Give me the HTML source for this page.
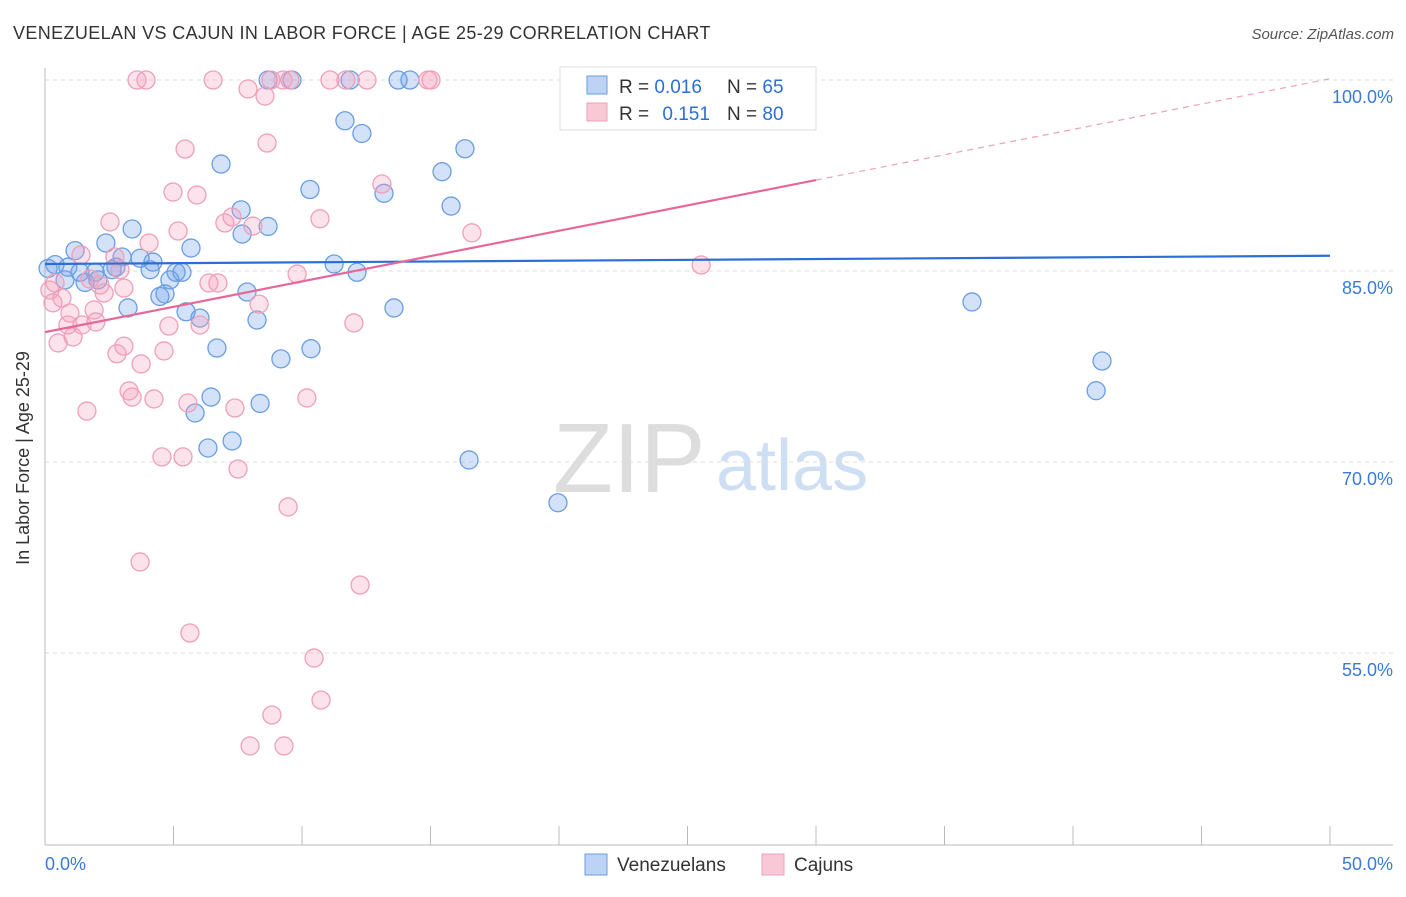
<!DOCTYPE html>
<html><head><meta charset="utf-8"><style>
body{margin:0;background:#fff;font-family:"Liberation Sans",sans-serif}
svg text{font-family:"Liberation Sans",sans-serif}
</style></head><body>
<svg id="chart" width="1406" height="892" viewBox="0 0 1406 892">
<text x="13" y="39" font-size="18" fill="#333" letter-spacing="0.37">VENEZUELAN VS CAJUN IN LABOR FORCE | AGE 25-29 CORRELATION CHART</text>
<text x="1394" y="39" font-size="15" fill="#555" font-style="italic" text-anchor="end">Source: ZipAtlas.com</text>
<g>
<text x="553" y="492" font-size="98" fill="#ddd" font-family="Liberation Serif,serif">ZIP</text>
<text x="716" y="490" font-size="72" fill="#cfdff3">atlas</text>
</g>
<g id="grid"></g><g id="axes"></g><g id="pts"></g><g id="trends"></g>
<text x="29" y="458" font-size="18" fill="#333" text-anchor="middle" transform="rotate(-90 29 458)">In Labor Force | Age 25-29</text>
<g>
<rect x="560" y="67" width="256" height="63" fill="#fff" stroke="#ddd"/>
<rect x="587" y="76" width="20" height="18" fill="#bcd3f5" stroke="#6a9ee0"/>
<rect x="587" y="103" width="20" height="18" fill="#f8c8d7" stroke="#eea0b8"/>
<text x="619" y="93" font-size="19" fill="#333">R = <tspan fill="#2b6fd6">0.016</tspan></text>
<text x="727" y="93" font-size="19" fill="#333">N = <tspan fill="#2b6fd6">65</tspan></text>
<text x="619" y="120" font-size="19" fill="#333">R = <tspan fill="#2b6fd6" dx="8">0.151</tspan></text>
<text x="727" y="120" font-size="19" fill="#333">N = <tspan fill="#2b6fd6">80</tspan></text>
</g>
<g>
<rect x="585" y="854" width="22" height="21" fill="#bcd3f5" stroke="#6a9ee0"/>
<text x="617" y="871" font-size="19" fill="#333">Venezuelans</text>
<rect x="762" y="854" width="22" height="21" fill="#f8c8d7" stroke="#eea0b8"/>
<text x="794" y="871" font-size="19" fill="#333">Cajuns</text>
</g>
</svg>
<script>
const yTicks=[100,85,70,55];
const yTickLabels=["100.0%","85.0%","70.0%","55.0%"];
const xTickLabels=["0.0%","50.0%"];
const venX=[8.68,9.61,11.87,13.74,14.2,11.67,12.33,16.34,6.85,15.45,10.31,13.19,15.8,7.63,7.67,8.68,3.39,2.37,1.17,5.68,0.39,0.89,1.36,1.95,2.76,3.0,3.7,4.2,4.09,5.1,5.33,11.25,12.14,4.86,2.06,1.56,0.78,0.12,4.47,4.67,3.23,5.49,6.03,8.25,7.86,13.58,36.07,6.69,9.18,10.35,41.13,40.9,6.46,8.37,5.84,7.28,6.34,16.5,19.96,2.61];
const venY=[100,100,100,100,100,96.8,95.8,94.6,93.4,92.8,91.4,91.1,90.1,89.8,87.9,88.5,88.3,87.2,86.6,86.8,85.5,85.3,84.9,84.9,85.3,86.1,86.0,85.7,85.1,84.9,84.9,85.55,84.9,84.3,84.3,84.1,84.3,85.2,83.0,83.2,82.1,81.8,81.3,81.15,83.35,82.1,82.57,78.95,78.1,78.9,77.93,75.6,75.1,74.6,73.85,71.65,71.1,70.16,66.8,85.1];
const cajX=[3.58,3.93,6.54,8.79,9.26,9.53,11.09,11.71,12.53,14.9,15.02,7.9,8.56,5.45,8.64,4.98,5.91,13.11,2.53,7.0,7.28,8.09,10.7,16.61,5.18,4.05,1.4,2.72,2.92,1.75,2.14,0.39,0.19,0.66,0.31,0.97,1.91,0.89,1.44,1.98,2.3,3.07,6.38,6.73,9.81,25.53,8.33,4.82,6.03,12.02,1.09,0.51,3.07,2.8,4.63,3.74,3.27,3.39,4.24,5.56,7.39,10.19,1.63,4.55,5.37,7.51,9.46,3.7,12.26,5.64,10.47,10.74,8.83,7.98,9.3];
const cajY=[100,100,100,100,100,100,100,100,100,100,100,99.3,98.74,94.58,95.05,91.2,90.97,91.83,88.85,88.77,89.24,88.53,89.1,88.0,88.14,87.2,86.26,86.1,85.1,84.37,83.9,84.06,83.5,82.88,82.5,81.7,81.94,80.76,80.76,81.0,83.27,83.66,84.06,84.06,84.76,85.47,82.4,80.68,80.76,80.92,79.82,79.35,79.1,78.5,78.72,77.7,75.58,75.1,74.95,74.63,74.24,75.03,74.0,70.4,70.4,69.45,66.47,62.15,60.34,56.57,54.6,51.3,50.13,47.7,47.7];
const venTrend=[85.55,86.2];
const cajTrend=[80.2,0.398];
const NS="http://www.w3.org/2000/svg";
const xs=v=>45+v*25.7, ys=v=>80+(100-v)*12.733;
function mk(t,a,p){const e=document.createElementNS(NS,t);for(const k in a)e.setAttribute(k,a[k]);p.appendChild(e);return e;}
const grid=document.getElementById('grid'),axes=document.getElementById('axes'),pts=document.getElementById('pts'),tr=document.getElementById('trends');
yTicks.forEach((t,i)=>{
 const l=mk('line',{x1:45,x2:1393,y1:ys(t),y2:ys(t),stroke:'#ddd','stroke-dasharray':'4,4'},grid);
 
 
 const tx=mk('text',{x:1393,y:ys(t)+23,'font-size':18,fill:'#3b7ad8','text-anchor':'end'},grid);
 tx.textContent=yTickLabels[i];
 
 
});
let a=mk('line',{x1:45,x2:45,y1:68,y2:845,stroke:'#bbb'},axes);


a=mk('line',{x1:45,x2:1393,y1:845,y2:845,stroke:'#bbb'},axes);


for(let i=0;i<=10;i++){const v=i*5;
 const t=mk('line',{x1:xs(v),x2:xs(v),y1:826,y2:845,stroke:'#bbb'},axes);
 
 }
[[0,'start',45],[50,'end',1393]].forEach((d,i)=>{
 const t=mk('text',{x:d[2],y:870,'font-size':18,fill:'#3b7ad8','text-anchor':d[1]},axes);
 t.textContent=xTickLabels[i];
 
 });
venX.forEach((x,i)=>{const c=mk('circle',{cx:xs(x),cy:ys(venY[i]),r:9,fill:'rgba(110,160,235,0.3)',stroke:'#6a9ee0','stroke-width':1.3},pts);
 
 });
cajX.forEach((x,i)=>{const c=mk('circle',{cx:xs(x),cy:ys(cajY[i]),r:9,fill:'rgba(245,160,190,0.3)',stroke:'#eea0b8','stroke-width':1.3},pts);
 
 });
let l=mk('line',{x1:xs(0),y1:ys(venTrend[0]),x2:xs(50),y2:ys(venTrend[1]),stroke:'#2b6fd6','stroke-width':2.2},tr);


const cy=x=>cajTrend[0]+cajTrend[1]*x;
l=mk('line',{x1:xs(0),y1:ys(cy(0)),x2:xs(30),y2:ys(cy(30)),stroke:'#e8679a','stroke-width':2.2},tr);


l=mk('line',{x1:xs(30),y1:ys(cy(30)),x2:xs(50),y2:ys(cy(50)),stroke:'#eea0b8','stroke-width':1.2,'stroke-dasharray':'6,5'},tr);


</script>
</body></html>
